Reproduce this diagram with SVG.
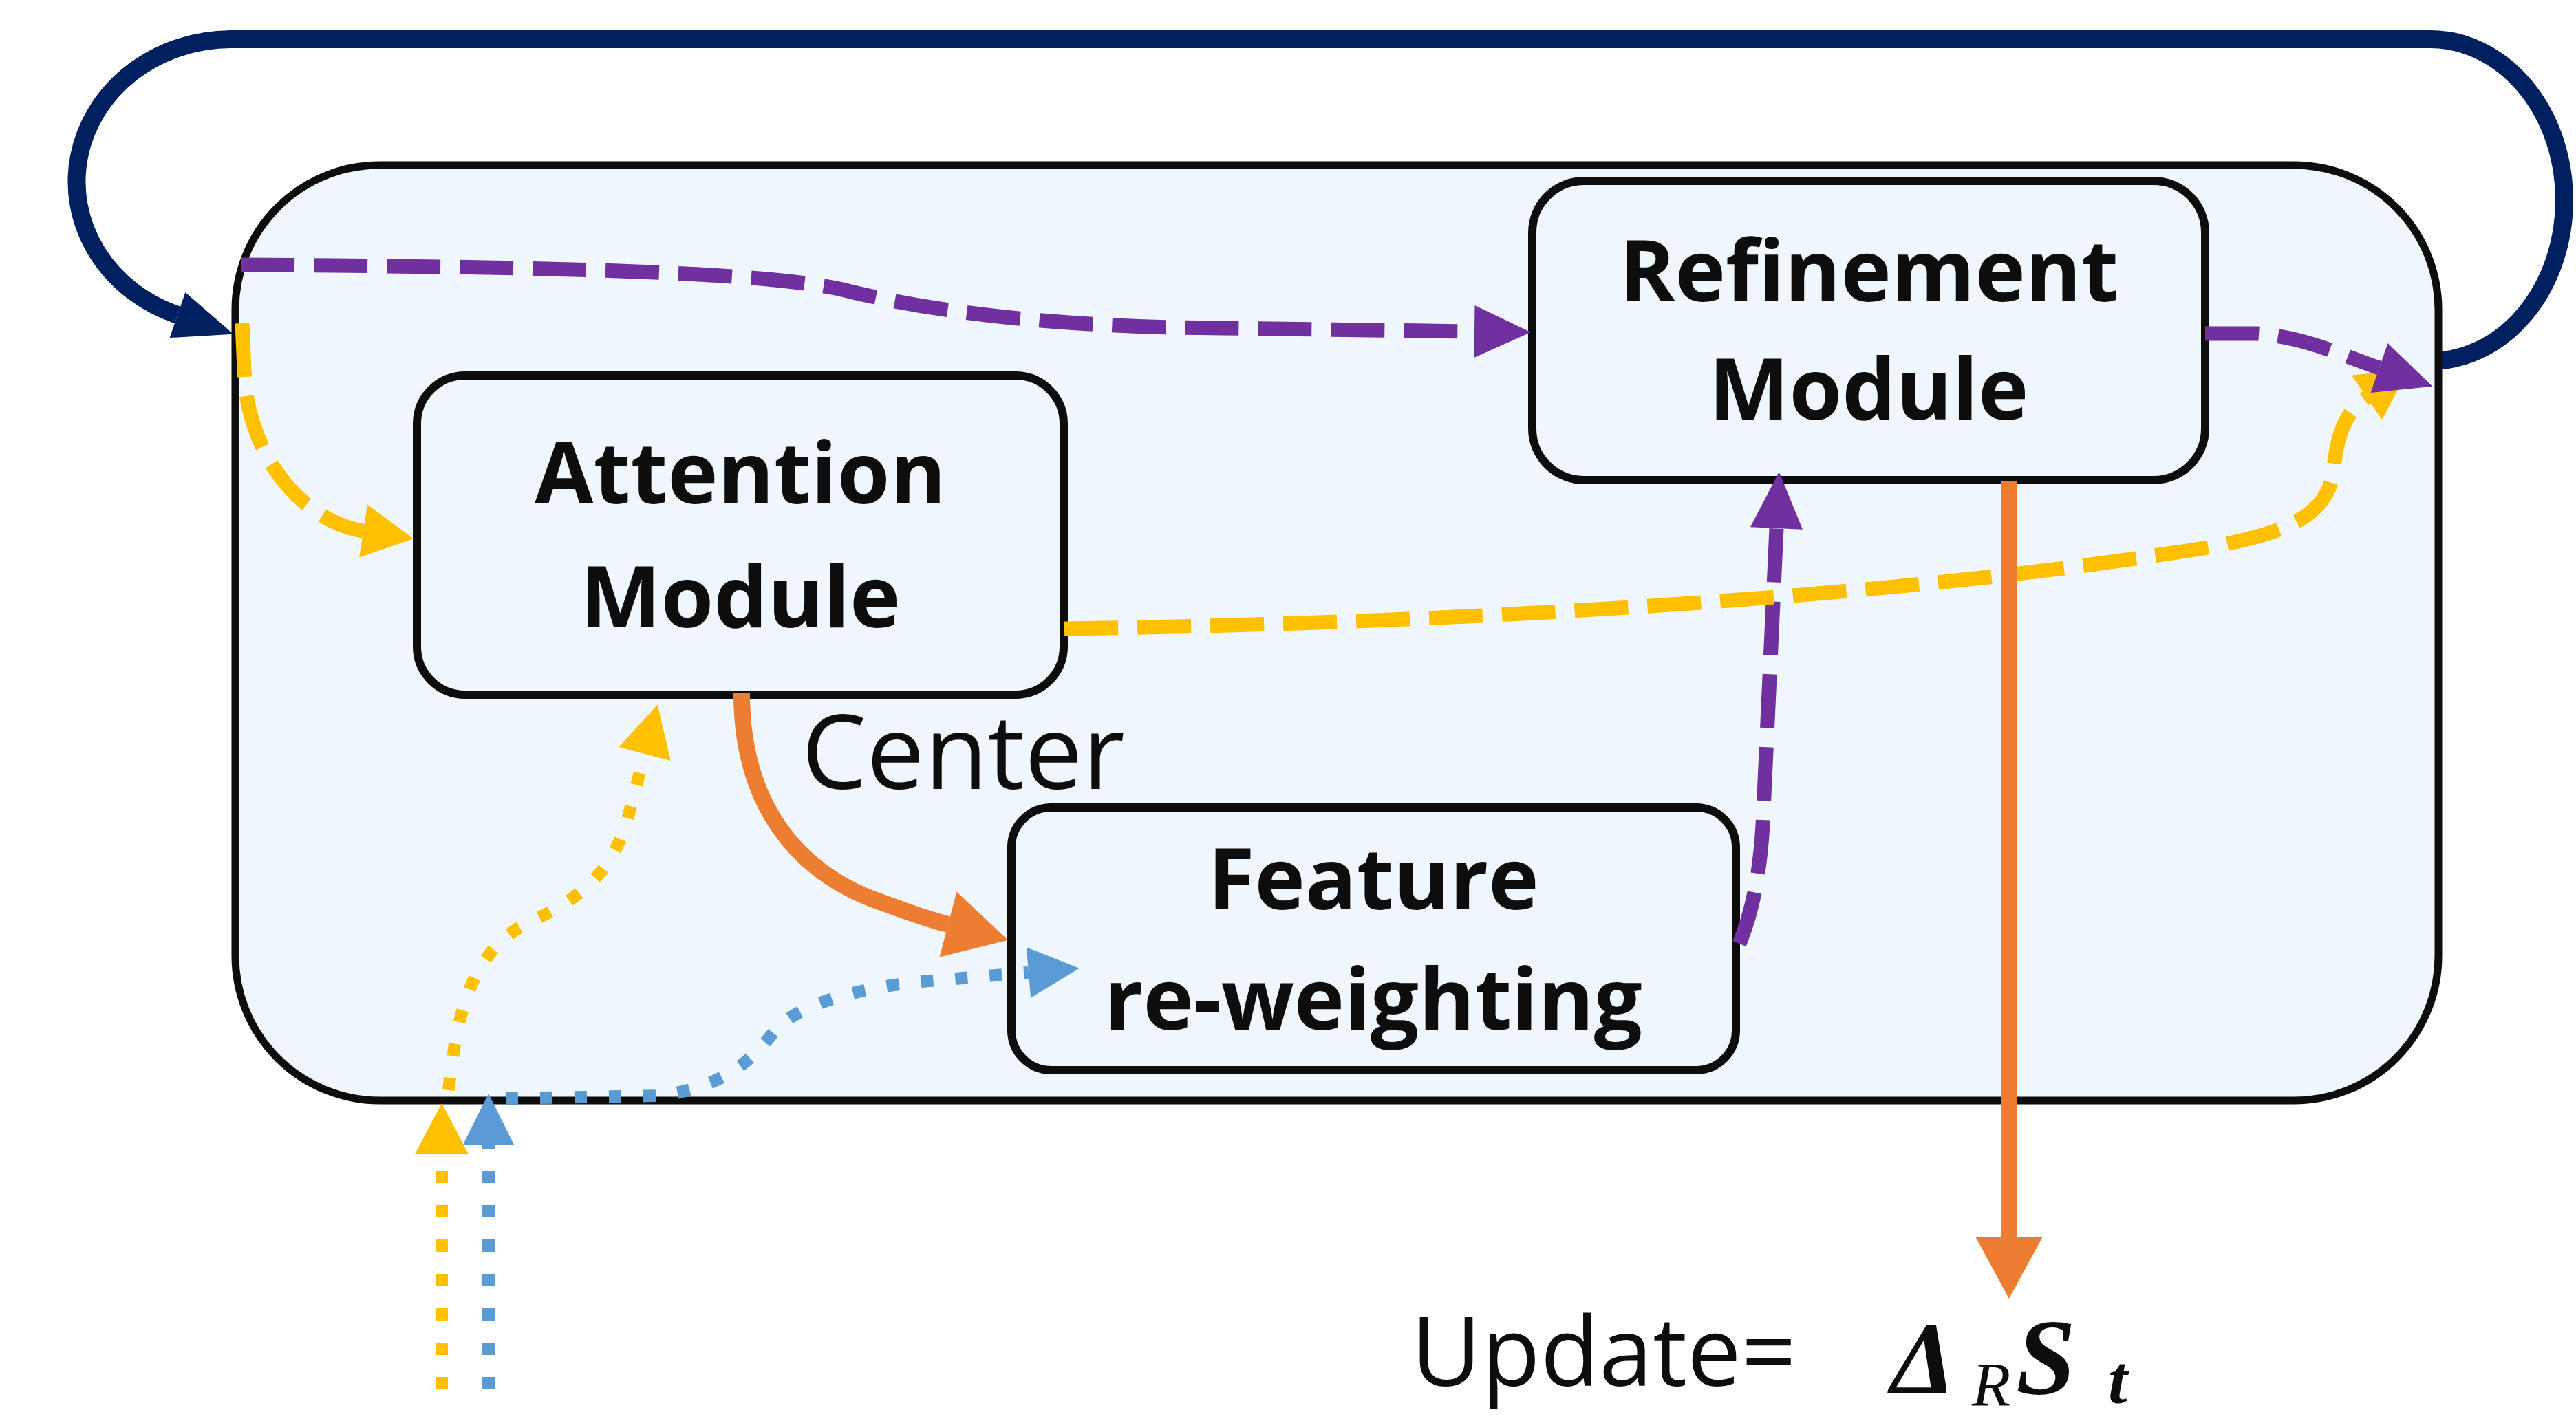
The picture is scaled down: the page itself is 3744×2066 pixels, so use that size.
<svg xmlns="http://www.w3.org/2000/svg" width="3744" height="2066" viewBox="0 0 3744 2066">
<style>
.box{fill:#EFF7FD;stroke:#0d0d0d;stroke-width:12}
.outer{fill:#EFF7FD;stroke:#0d0d0d;stroke-width:11}
.lbl{font-family:"Open Sans","Noto Sans","Liberation Sans",sans-serif;font-weight:700;font-size:124px;fill:#0d0d0d;text-anchor:middle}
.plain{font-family:"Open Sans","Noto Sans","Liberation Sans",sans-serif;font-weight:400;fill:#0d0d0d}
.math{font-family:"Liberation Serif","DejaVu Serif",serif;fill:#0d0d0d;font-style:italic}
.c{fill:none}
.purple{stroke:#7030A0;stroke-width:21;stroke-dasharray:78 28}
.ydash{stroke:#FFC000;stroke-width:21;stroke-dasharray:78 28}
.ydot{stroke:#FFC000;stroke-width:18;stroke-dasharray:18 32}
.bdot{stroke:#5B9BD5;stroke-width:18;stroke-dasharray:18 32}
.orange{stroke:#ED7D31;stroke-width:24}
.navy{stroke:#002060;stroke-width:26}
</style>
<defs>
<marker id="arrP" markerUnits="userSpaceOnUse" markerWidth="84" markerHeight="78" refX="0" refY="38" orient="auto" overflow="visible"><path d="M0,0 L82,38 L0,76 z" fill="#7030A0"/></marker>
<marker id="arrY" markerUnits="userSpaceOnUse" markerWidth="80" markerHeight="80" refX="0" refY="39" orient="auto" overflow="visible"><path d="M0,0 L74,39 L0,78 z" fill="#FFC000"/></marker>
<marker id="arrO" markerUnits="userSpaceOnUse" markerWidth="92" markerHeight="100" refX="0" refY="49" orient="auto" overflow="visible"><path d="M0,0 L90,49 L0,98 z" fill="#ED7D31"/></marker>
<marker id="arrB" markerUnits="userSpaceOnUse" markerWidth="78" markerHeight="76" refX="0" refY="37" orient="auto" overflow="visible"><path d="M0,0 L74,37 L0,74 z" fill="#5B9BD5"/></marker>
<marker id="arrN" markerUnits="userSpaceOnUse" markerWidth="90" markerHeight="72" refX="0" refY="35" orient="auto" overflow="visible"><path d="M0,0 L86,35 L0,70 z" fill="#002060"/></marker>
</defs>
<rect width="3744" height="2066" fill="#ffffff"/>

<g id="loop">
<path class="c navy" d="M335 57 L3532 57 A195 234 0 0 1 3532 525" />
<path class="c navy" d="M335 57 A225 207 0 0 0 258 458" marker-end="url(#arrN)"/>
</g>

<g id="container">
<rect class="outer" x="342" y="240" width="3202" height="1360" rx="210" ry="210"/>
</g>

<g id="attention">
<rect class="box" x="606" y="546" width="940" height="464" rx="70" ry="70"/>
<text class="lbl" x="1076" y="732">Attention</text>
<text class="lbl" x="1076" y="912">Module</text>
</g>

<g id="refinement">
<rect class="box" x="2227" y="263" width="978" height="435" rx="75" ry="75"/>
<text class="lbl" x="2716" y="438">Refinement</text>
<text class="lbl" x="2716" y="610">Module</text>
</g>

<g id="feature">
<rect class="box" x="1470" y="1174" width="1053" height="382" rx="58" ry="58"/>
<text class="lbl" x="1996" y="1322">Feature</text>
<text class="lbl" x="1996" y="1497">re-weighting</text>
</g>

<g id="connectors">
<path class="c purple" d="M2528 1372 C2545 1330 2557 1280 2562 1200 L2582 768" marker-end="url(#arrP)"/>
<path class="c ydash" d="M1547 914 C2200 905 2800 860 3150 805 C3330 780 3385 750 3392 680 C3398 620 3415 595 3440 578" marker-end="url(#arrY)"/>
<path class="c ydash" d="M352 470 L356 560 C370 680 450 760 528 772" marker-end="url(#arrY)"/>
<path class="c purple" d="M350 385 C800 388 1100 395 1220 420 C1330 448 1480 470 1700 476 L2143 482" marker-end="url(#arrP)"/>
<path class="c purple" d="M3205 485 L3280 485 C3350 490 3400 515 3458 535" marker-end="url(#arrP)"/>
<path class="c orange" d="M1078 1008 C1078 1160 1150 1270 1290 1315 C1330 1330 1355 1338 1378 1344" marker-end="url(#arrO)"/>
<path class="c orange" d="M2920 700 L2920 1798" marker-end="url(#arrO)"/>
<path class="c ydot" d="M642 2020 L642 1678" marker-end="url(#arrY)"/>
<path class="c bdot" d="M710 2020 L710 1664" marker-end="url(#arrB)"/>
<path class="c ydot" d="M652 1585 C665 1460 690 1380 770 1340 C850 1305 895 1260 915 1180 L937 1096" marker-end="url(#arrY)"/>
<path class="c bdot" d="M735 1597 L960 1593 C1050 1580 1090 1545 1125 1500 C1160 1460 1240 1438 1340 1427 L1495 1414" marker-end="url(#arrB)"/>
</g>

<g id="labels">
<text class="plain" x="1165" y="1147" font-size="150">Center</text>
<text class="plain" x="2051" y="2015" font-size="140">Update=</text>
<text class="math"><tspan x="2748" y="2026" font-size="150" font-weight="700">Δ</tspan><tspan x="2866" y="2044" font-size="92">R</tspan><tspan x="2930" y="2026" font-size="156" font-weight="700">S</tspan><tspan x="3064" y="2040" font-size="100" font-weight="700">t</tspan></text>
</g>
</svg>
